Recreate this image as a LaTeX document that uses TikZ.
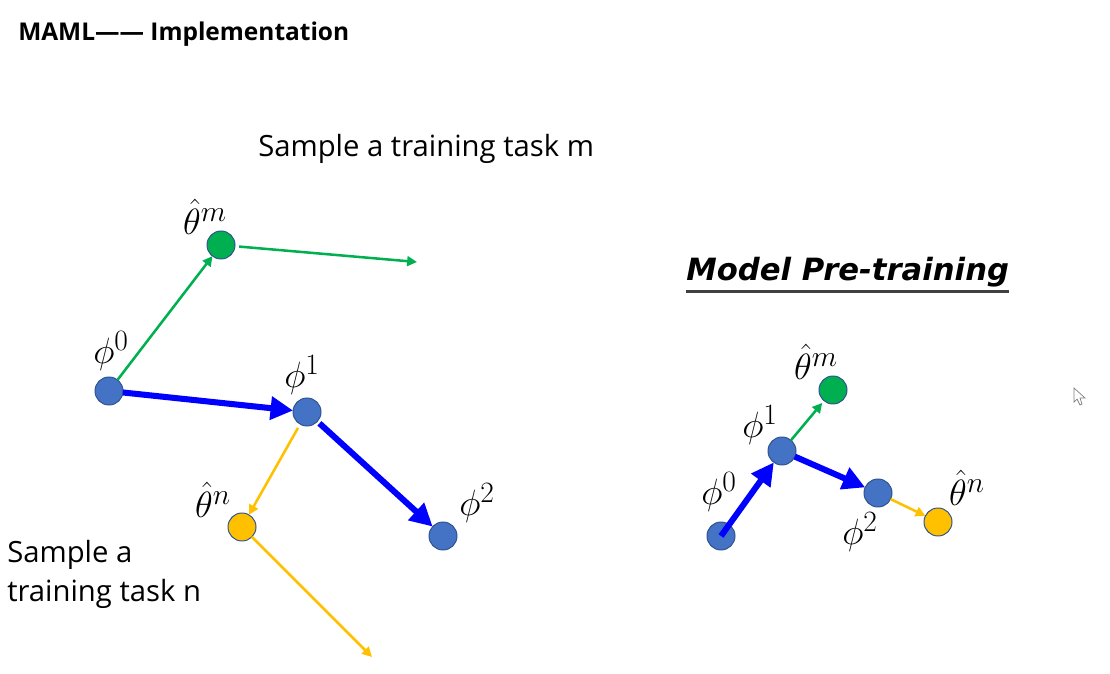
\RequirePackage{fix-cm}
\documentclass[tikz,border=0pt]{standalone}
\usepackage{fontspec}
\setmainfont{Open Sans}
\newfontfamily\headfont{DejaVu Sans}
\DeclareMathSizes{26}{26}{21}{16}
\usetikzlibrary{arrows.meta,positioning}

\definecolor{dotblue}{HTML}{4472C4}
\definecolor{dotedge}{HTML}{2F528F}
\definecolor{dotgreen}{HTML}{00B050}
\definecolor{dotyellow}{HTML}{FFC000}
\definecolor{stepblue}{HTML}{0000FF}

\begin{document}
\begin{tikzpicture}[x=0.025cm,y=-0.025cm]
  \tikzset{
    dot/.style={draw=dotedge,circle,minimum size=0.7cm,inner sep=0pt,outer sep=0pt,line width=0.7pt},
    phidot/.style={dot,fill=dotblue},
    mdot/.style={dot,fill=dotgreen},
    ndot/.style={dot,fill=dotyellow},
    steparrow/.style={-{Triangle[length=16pt,width=16pt]},line width=4.3pt,draw=stepblue},
    marrow/.style={-{Triangle[length=7pt,width=7pt]},line width=1.8pt,draw=dotgreen},
    narrow/.style={-{Triangle[length=7pt,width=7pt]},line width=1.8pt,draw=dotyellow},
    mathlab/.style={font=\fontsize{26}{30}\selectfont,inner sep=0pt},
    tasklab/.style={anchor=west,inner sep=0pt,font=\fontsize{20.8}{27.7}\selectfont}
  }
  \useasboundingbox (0,0) rectangle (1110,674);

%%%%%%%%%%%%%%%%%%%%%%%%%%
  \node[anchor=west,inner sep=0pt,font=\fontsize{17.4}{20}\selectfont\bfseries] (Title) at (18,34) {MAML—— Implementation};

%%%%%%%%%%%%%%%%%%%%%%%%%%
% LEFT
  \node[phidot] (LPhi0) at (109,391) {};
  \node[mdot] (LThetaM) at (221,245) {};
  \node[phidot] (LPhi1) at (307,412) {};
  \node[ndot] (LThetaN) at (242,527) {};
  \node[phidot] (LPhi2) at (443,536) {};
  \coordinate (LMEnd) at (417,262);
  \coordinate (LNEnd) at (372,657);

  \node[mathlab] (LabLPhi0) at (111,351) {$\phi^0$};
  \node[mathlab] (LabLThetaM) at (205,217) {$\hat\theta^m$};
  \node[mathlab] (LabLPhi1) at (302,375) {$\phi^1$};
  \node[mathlab] (LabLThetaN) at (213,500) {$\hat\theta^n$};
  \node[mathlab] (LabLPhi2) at (477,503) {$\phi^2$};

  \draw[marrow] (LPhi0) -- (LThetaM);
  \draw[marrow,shorten <=3pt] (LThetaM) -- (LMEnd);
  \draw[steparrow] (LPhi0) -- (LPhi1);
  \draw[steparrow,shorten <=2pt] (LPhi1) -- (LPhi2);
  \draw[narrow,shorten <=3pt] (LPhi1) -- (LThetaN);
  \draw[narrow] (LThetaN) -- (LNEnd);

  \node[tasklab] (TaskM) at (258,149) {Sample a training task m};
  \node[tasklab,align=left] (TaskN) at (7,574) {Sample a\\training task n};

%%%%%%%%%%%%%%%%%%%%%%%%%%
% RIGHT
  \node[anchor=west,inner sep=0pt,font=\fontsize{21.8}{26}\headfont\bfseries\itshape] (PreTrain) at (686,272) {Model Pre-training};
  \draw[line width=1.5pt,draw=black!75] ([yshift=-3pt]PreTrain.south west) -- ([yshift=-3pt]PreTrain.south east);

  \node[phidot] (RPhi0) at (721,536) {};
  \node[phidot] (RPhi1) at (782,451) {};
  \node[mdot] (RThetaM) at (833,390) {};
  \node[phidot] (RPhi2) at (878,493) {};
  \node[ndot] (RThetaN) at (938,522) {};

  \node[mathlab] (LabRPhi0) at (719,492) {$\phi^0$};
  \node[mathlab] (LabRPhi1) at (760,425) {$\phi^1$};
  \node[mathlab] (LabRThetaM) at (816,362) {$\hat\theta^m$};
  \node[mathlab] (LabRPhi2) at (860,532) {$\phi^2$};
  \node[mathlab] (LabRThetaN) at (967,488) {$\hat\theta^n$};

  \draw[steparrow] (RPhi0.center) -- (RPhi1);
  \draw[steparrow] (RPhi1) -- (RPhi2);
  \draw[marrow,shorten >=2pt] (RPhi1) -- (RThetaM);
  \draw[narrow] (RPhi2) -- (RThetaN);

%%%%%%%%%%%%%%%%%%%%%%%%%%
% pointer
  \draw[fill=white,draw=gray,line width=0.5pt] (1074,388) -- (1074,402) -- (1077,399) -- (1080,405) -- (1082,404) -- (1080,398) -- (1085,398) -- cycle;

\end{tikzpicture}
\end{document}
